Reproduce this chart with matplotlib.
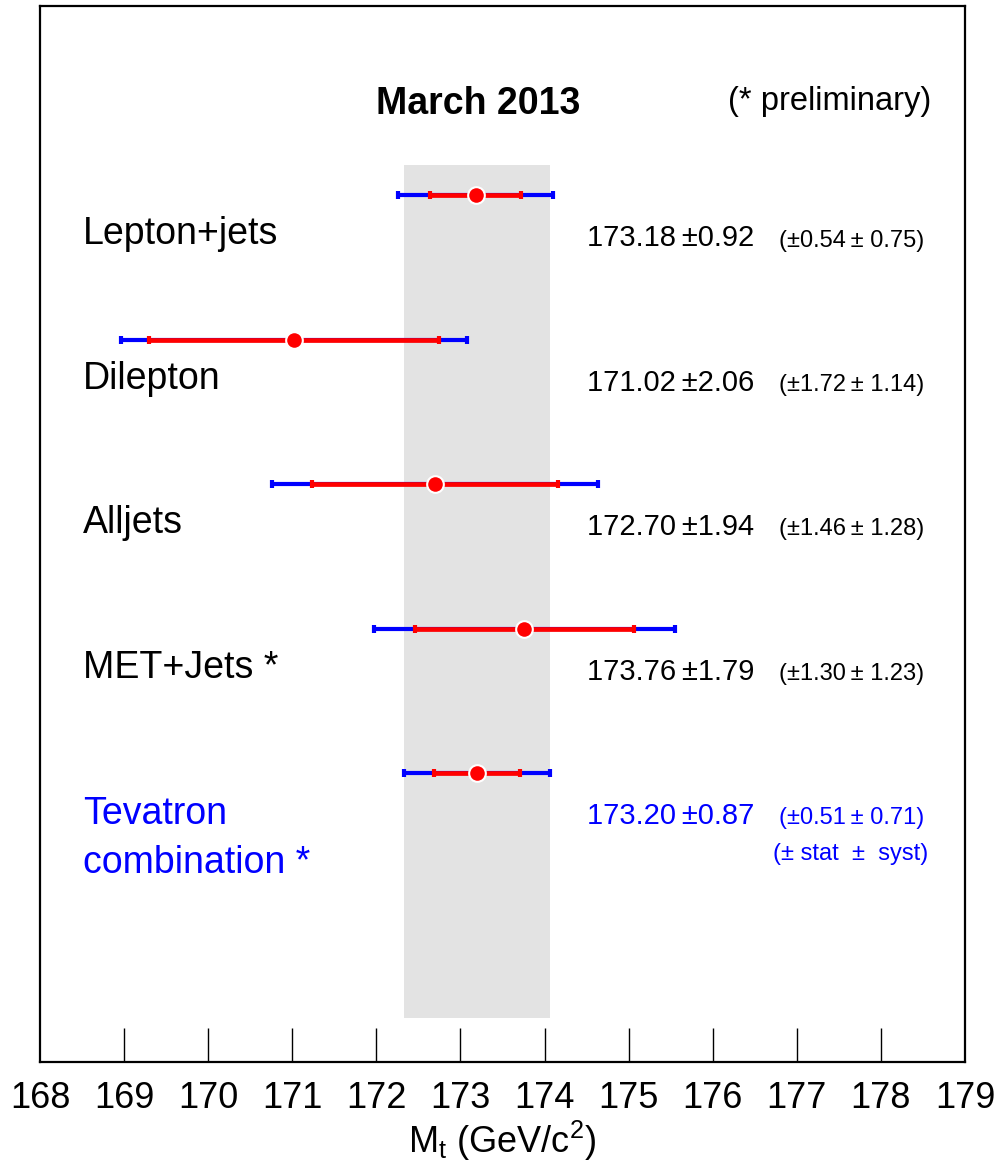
import numpy as np
import matplotlib
matplotlib.use("Agg")
import matplotlib.pyplot as plt

plt.rcParams["font.family"] = ["Liberation Sans", "DejaVu Sans"]
plt.rcParams["mathtext.fontset"] = "custom"
plt.rcParams["mathtext.rm"] = "Liberation Sans"
plt.rcParams["mathtext.it"] = "Liberation Sans"

# Top-quark mass measurements (GeV/c^2)
channels = ["Lepton+jets", "Dilepton", "Alljets", "MET+Jets *", "Tevatron combination *"]
mass = [173.18, 171.02, 172.70, 173.76, 173.20]
total_err = [0.92, 2.06, 1.94, 1.79, 0.87]
stat_err = [0.54, 1.72, 1.46, 1.30, 0.51]
syst_err = [0.75, 1.14, 1.28, 1.23, 0.71]
xticks = [169, 170, 171, 172, 173, 174, 175, 176, 177, 178]

fig = plt.figure(figsize=(10.02, 11.65), dpi=100)
ax = fig.add_axes([40 / 1002, 103 / 1165, 925 / 1002, 1056 / 1165])
ax.set_xlim(168, 179)
ax.set_ylim(0, 7.31)

# band for the combined result
comb = len(mass) - 1
ax.axvspan(mass[comb] - total_err[comb], mass[comb] + total_err[comb],
           ymin=0.0417, ymax=0.8494, color="#e3e3e3", lw=0, zorder=0)

ypos = 6 - np.arange(len(mass))
for i, y in enumerate(ypos):
    ax.errorbar(mass[i], y, xerr=total_err[i], fmt="none", ecolor="blue",
                elinewidth=3.0, capsize=3, capthick=3.0, zorder=2)
    ax.errorbar(mass[i], y, xerr=stat_err[i], fmt="none", ecolor="red",
                elinewidth=3.4, capsize=3, capthick=3.0, zorder=3)
    ax.plot(mass[i], y, "o", color="red", ms=12, mec="white", mew=1.5, zorder=4)

    col = "blue" if i == comb else "black"
    if i == comb:
        ax.text(168.51, y - 0.353, "Tevatron", fontsize=27, color=col, va="baseline")
        ax.text(168.51, y - 0.69, "combination *", fontsize=27, color=col, va="baseline")
    else:
        ax.text(168.51, y - 0.339, channels[i], fontsize=27, color=col, va="baseline")
    ax.text(174.50, y - 0.353, f"{mass[i]:.2f}\u2009\u00b1{total_err[i]:.2f}",
            fontsize=21, color=col, va="baseline")
    ax.text(176.79, y - 0.355, f"(\u00b1{stat_err[i]:.2f}\u2009\u00b1 {syst_err[i]:.2f})",
            fontsize=17, color=col, va="baseline")

ax.text(178.56, ypos[comb] - 0.6, "(\u00b1 stat  \u00b1  syst)", fontsize=17,
        color="blue", va="baseline", ha="right")

ax.text(172.0, 6.56, "March 2013", fontsize=27, fontweight="bold", va="baseline")
ax.text(176.18, 6.59, "(* preliminary)", fontsize=23.5, va="baseline")

ax.set_xticks(xticks)
ax.set_xticklabels([])
ax.set_yticks([])
ax.tick_params(axis="x", direction="in", length=24.5, width=1.0)
for s in ax.spines.values():
    s.set_linewidth(1.6)

# tick labels including the axis ends
for v in range(168, 180):
    ax.text(v, -0.13, str(v), fontsize=26, ha="center", va="top")

ax.text(173.5, -0.39, r"M$_{\mathregular{t}}$ (GeV/c$^{\mathregular{2}}$)",
        fontsize=26, ha="center", va="top")

fig.savefig("out.png", dpi=100)
